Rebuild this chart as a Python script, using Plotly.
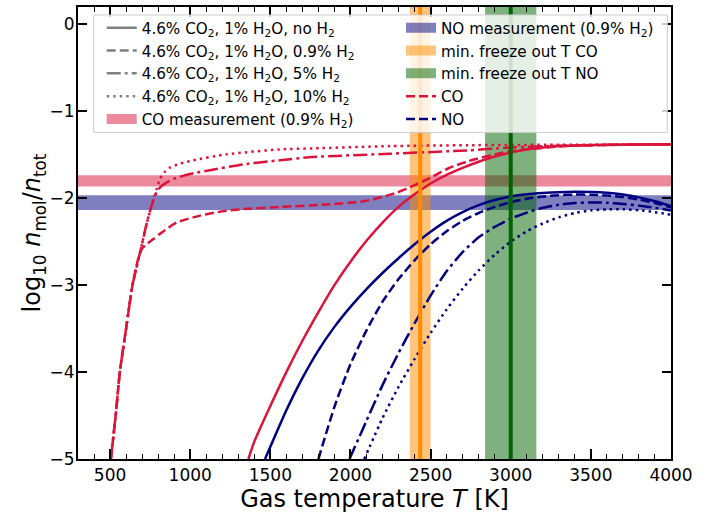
import plotly.graph_objects as go

# ---------------- data ----------------
# CO, 4.6% CO2, 1% H2O, no H2
T_co_noH2 = [1363, 1400, 1500, 1600, 1700, 1800, 1900, 2000, 2100, 2200, 2300, 2400, 2500, 2600, 2700,
             2800, 2900, 3000, 3100, 3200, 3300, 3400, 3600, 4000]
co_noH2 = [-5.0, -4.80, -4.39, -4.0, -3.64, -3.31, -3.00, -2.73, -2.49, -2.28, -2.10, -1.955, -1.83,
           -1.73, -1.65, -1.58, -1.52, -1.475, -1.44, -1.417, -1.40, -1.392, -1.385, -1.378]

# CO, 0.9% H2
T_co_09 = [505, 535, 561, 600, 640, 675, 700, 727, 770, 811, 915, 1019, 1123, 1227, 1331, 1561,
           1873, 2081, 2200, 2290, 2394, 2498, 2612, 2733, 2976, 3339, 3700, 4000]
co_09 = [-5.0, -4.5, -4.0, -3.5, -3.0, -2.7, -2.58, -2.53, -2.47, -2.41, -2.28, -2.22, -2.175, -2.145,
         -2.125, -2.10, -2.07, -2.035, -1.985, -1.935, -1.855, -1.765, -1.655, -1.575, -1.465, -1.40, -1.385,
         -1.378]

# CO, 5% H2
T_co_5 = [505, 535, 561, 600, 640, 675, 700, 730, 760, 790, 820, 852, 900, 956, 1040, 1123, 1331,
          1561, 1764, 2248, 2733, 2973, 3339, 3700, 4000]
co_5 = [-5.0, -4.5, -4.0, -3.5, -3.0, -2.72, -2.52, -2.28, -2.08, -1.93, -1.86, -1.82, -1.775, -1.743,
        -1.705, -1.678, -1.61, -1.563, -1.526, -1.488, -1.449, -1.419, -1.395, -1.385, -1.38]

# CO, 10% H2
T_co_10 = [505, 535, 561, 600, 640, 675, 700, 730, 760, 790, 811, 840, 873, 940, 1019, 1227, 1561,
           1764, 2248, 2733, 3300, 4000]
co_10 = [-5.0, -4.5, -4.0, -3.5, -3.0, -2.72, -2.52, -2.28, -2.08, -1.9, -1.78, -1.70, -1.648, -1.60,
         -1.563, -1.495, -1.438, -1.427, -1.40, -1.39, -1.385, -1.385]

# NO, no H2
T_no_noH2 = [1467, 1500, 1600, 1700, 1800, 1900, 2000, 2100, 2200, 2300, 2400, 2500, 2600, 2700, 2800,
             2900, 3000, 3100, 3200, 3300, 3400, 3500, 3600, 3700, 3800, 3900, 4000]
no_noH2 = [-5.0, -4.86, -4.44, -4.07, -3.75, -3.48, -3.25, -3.045, -2.86, -2.69, -2.53, -2.385, -2.26,
           -2.16, -2.08, -2.02, -1.98, -1.955, -1.94, -1.93, -1.926, -1.928, -1.937, -1.957, -1.99,
           -2.035, -2.09]

# NO, 0.9% H2
T_no_09 = [1800, 1900, 2000, 2100, 2200, 2300, 2400, 2500, 2600, 2700, 2800, 2900, 3000, 3100, 3200,
           3300, 3400, 3500, 3600, 3700, 3800, 3900, 4000]
no_09 = [-5.0, -4.40, -3.91, -3.52, -3.19, -2.93, -2.715, -2.53, -2.38, -2.26, -2.17, -2.10, -2.045,
         -2.005, -1.98, -1.965, -1.958, -1.96, -1.968, -1.985, -2.015, -2.055, -2.105]

# NO, 5% H2
T_no_5 = [1994, 2100, 2200, 2300, 2400, 2500, 2600, 2700, 2800, 2900, 3000, 3100, 3200, 3300, 3400,
          3500, 3600, 3700, 3800, 3900, 4000]
no_5 = [-5.0, -4.56, -4.15, -3.78, -3.44, -3.12, -2.84, -2.62, -2.45, -2.33, -2.235, -2.165, -2.11,
        -2.075, -2.055, -2.048, -2.052, -2.066, -2.085, -2.11, -2.14]

# NO, 10% H2
T_no_10 = [2086, 2200, 2300, 2400, 2500, 2600, 2700, 2800, 2900, 3000, 3100, 3200, 3300, 3400, 3500,
           3600, 3700, 3800, 3900, 4000]
no_10 = [-5.0, -4.53, -4.17, -3.85, -3.55, -3.28, -3.04, -2.83, -2.65, -2.50, -2.38, -2.29, -2.22,
         -2.17, -2.14, -2.128, -2.127, -2.138, -2.16, -2.19]

# measurements (log10 mole fraction) and half widths
co_meas, co_meas_err = -1.80, 0.065
no_meas, no_meas_err = -2.05, 0.085

# minimum freeze-out temperatures and uncertainty
T_freeze_co, T_freeze_co_err = 2435, 65
T_freeze_no, T_freeze_no_err = 3000, 160

x_range = [300, 4000]
y_range = [-5, 0.2]

# ---------------- style ----------------
FONT = "DejaVu Sans"
LW = 2.5
DASH = {"solid": "solid", "dashed": "9px,4px", "dashdot": "14px,4px,3px,4px", "dotted": "2.5px,4px"}
CO_C = "crimson"
NO_C = "navy"

fig = go.Figure()

# horizontal measurement bands
fig.add_shape(type="rect", xref="paper", x0=0, x1=1, yref="y",
              y0=co_meas - co_meas_err, y1=co_meas + co_meas_err,
              fillcolor="crimson", opacity=0.5, line_width=0, layer="below")
fig.add_shape(type="rect", xref="paper", x0=0, x1=1, yref="y",
              y0=no_meas - no_meas_err, y1=no_meas + no_meas_err,
              fillcolor="navy", opacity=0.5, line_width=0, layer="below")
# vertical freeze-out bands
fig.add_shape(type="rect", xref="x", x0=T_freeze_co - T_freeze_co_err, x1=T_freeze_co + T_freeze_co_err,
              yref="paper", y0=0, y1=1, fillcolor="darkorange", opacity=0.5, line_width=0, layer="below")
fig.add_shape(type="rect", xref="x", x0=T_freeze_no - T_freeze_no_err, x1=T_freeze_no + T_freeze_no_err,
              yref="paper", y0=0, y1=1, fillcolor="darkgreen", opacity=0.5, line_width=0, layer="below")

curves = [
    (T_co_noH2, co_noH2, CO_C, "solid"),
    (T_co_09, co_09, CO_C, "dashed"),
    (T_co_5, co_5, CO_C, "dashdot"),
    (T_co_10, co_10, CO_C, "dotted"),
    (T_no_noH2, no_noH2, NO_C, "solid"),
    (T_no_09, no_09, NO_C, "dashed"),
    (T_no_5, no_5, NO_C, "dashdot"),
    (T_no_10, no_10, NO_C, "dotted"),
]
for T, v, c, d in curves:
    fig.add_trace(go.Scatter(x=T, y=v, mode="lines", showlegend=False, hoverinfo="skip",
                             line=dict(color=c, width=LW, dash=DASH[d], shape="spline", smoothing=0.6)))

# vertical centre lines
fig.add_shape(type="line", xref="x", x0=T_freeze_co, x1=T_freeze_co, yref="paper", y0=0, y1=1,
              line=dict(color="darkorange", width=4), layer="above")
fig.add_shape(type="line", xref="x", x0=T_freeze_no, x1=T_freeze_no, yref="paper", y0=0, y1=1,
              line=dict(color="darkgreen", width=4), layer="above")

# legend frame
fig.add_shape(type="rect", xref="paper", yref="paper", x0=0.0265, x1=0.9937, y0=0.7225, y1=0.9824,
              fillcolor="rgba(255,255,255,0.8)", line=dict(color="#cccccc", width=1), layer="above")

# legend entries
GRAY = "gray"
leg1 = [
    ("4.6% CO<sub>2</sub>, 1% H<sub>2</sub>O, no H<sub>2</sub>", GRAY, DASH["solid"], LW),
    ("4.6% CO<sub>2</sub>, 1% H<sub>2</sub>O, 0.9% H<sub>2</sub>", GRAY, DASH["dashed"], LW),
    ("4.6% CO<sub>2</sub>, 1% H<sub>2</sub>O, 5% H<sub>2</sub>", GRAY, DASH["dashdot"], LW),
    ("4.6% CO<sub>2</sub>, 1% H<sub>2</sub>O, 10% H<sub>2</sub>", GRAY, DASH["dotted"], LW),
    ("CO measurement (0.9% H<sub>2</sub>)", "rgba(220,20,60,0.5)", "solid", 11),
]
leg2 = [
    ("NO measurement (0.9% H<sub>2</sub>)", "rgba(0,0,128,0.5)", "solid", 11),
    ("min. freeze out T CO", "rgba(255,140,0,0.5)", "solid", 11),
    ("min. freeze out T NO", "rgba(0,100,0,0.5)", "solid", 11),
    ("CO", CO_C, DASH["dashed"], LW),
    ("NO", NO_C, DASH["dashed"], LW),
]
for items, lg in ((leg1, "legend"), (leg2, "legend2")):
    for name, c, d, w in items:
        fig.add_trace(go.Scatter(x=[None], y=[None], mode="lines", name=name, legend=lg,
                                 line=dict(color=c, width=w, dash=d)))

axis_common = dict(
    ticks="inside", tickcolor="black", tickwidth=1.5, showline=True, linecolor="black",
    linewidth=2, mirror="allticks", showgrid=False, zeroline=False,
    tickfont=dict(family=FONT, size=17, color="black"),
)

fig.update_xaxes(range=x_range, tickmode="linear", tick0=500, dtick=500, ticklen=10,
                 minor=dict(ticks="inside", dtick=100, tick0=0, ticklen=5, tickwidth=1.2,
                            tickcolor="black", showgrid=False),
                 title=dict(text="Gas temperature <i>T</i> [K]", font=dict(family=FONT, size=24, color="black"),
                            standoff=3),
                 **axis_common)
fig.update_yaxes(range=y_range, tickmode="linear", tick0=0, dtick=1, ticklen=9, ticklabelstandoff=-2,
                 title=dict(text="log<sub>10</sub> <i>n</i><sub>mol</sub>/<i>n</i><sub>tot</sub>",
                            font=dict(family=FONT, size=24, color="black"), standoff=0),
                 **axis_common)

leg_common = dict(bgcolor="rgba(0,0,0,0)", borderwidth=0, font=dict(family=FONT, size=15.2, color="black"),
                  xanchor="left", yanchor="top", tracegroupgap=0, itemwidth=30)
fig.update_layout(
    width=718, height=515,
    margin=dict(l=78, r=47, t=5, b=56),
    plot_bgcolor="white", paper_bgcolor="white",
    font=dict(family=FONT, color="black"),
    legend=dict(x=0.040, y=0.9901, **leg_common),
    legend2=dict(x=0.5447, y=0.9901, **leg_common),
)

fig.write_html("out.html", config={"displayModeBar": False},
               post_script="document.body.style.margin='0';document.body.style.overflow='hidden';")
